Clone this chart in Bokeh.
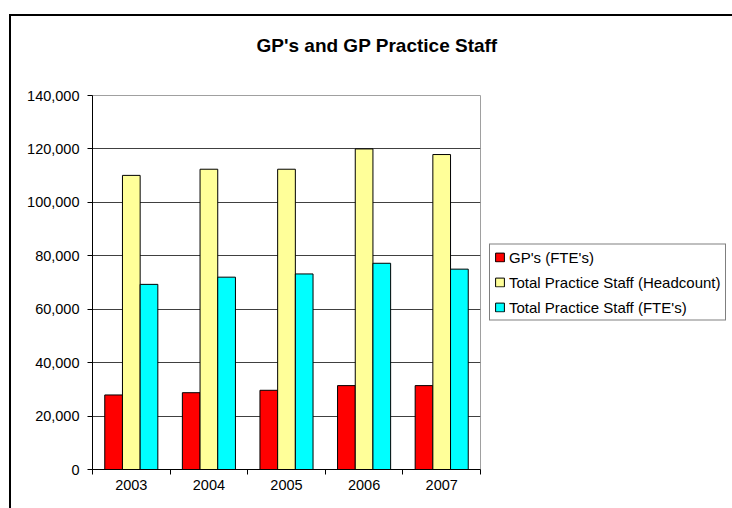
from bokeh.plotting import figure
from bokeh.models import (ColumnDataSource, Range1d, FixedTicker, NumeralTickFormatter,
                          Legend, LegendItem, Title)
from bokeh.transform import dodge
from bokeh.embed import file_html
from bokeh.resources import INLINE

# ---- data ----
years = ["2003", "2004", "2005", "2006", "2007"]
gp_fte = [27900, 28750, 29650, 31400, 31400]
staff_headcount = [110100, 112400, 112400, 120000, 117900]
staff_fte = [69300, 72000, 73200, 77200, 75000]
series_names = ["GP's (FTE's)", "Total Practice Staff (Headcount)", "Total Practice Staff (FTE's)"]
series_colors = ["#FF0000", "#FFFF99", "#00FFFF"]
y_ticks = [0, 20000, 40000, 60000, 80000, 100000, 120000, 140000]

FONT = "Liberation Sans"
n = len(years)
centers = [i + 0.5 for i in range(n)]
source = ColumnDataSource(dict(x=centers, gp=gp_fte, head=staff_headcount, fte=staff_fte))

p = figure(frame_width=388, frame_height=374, x_range=Range1d(0, n), y_range=Range1d(0, 140000),
           output_backend="svg", toolbar_location=None,
           min_border_left=81, min_border_right=252, min_border_top=79, min_border_bottom=39)
p.styles = {"margin-left": "9px", "margin-top": "14px",
            "border-left": "2px solid #000000", "border-top": "2px solid #000000"}

p.background_fill_color = "white"
p.border_fill_color = "white"
p.outline_line_color = "#a0a0a0"
p.outline_line_width = 1

bw = 0.228
renderers = []
for field, off, col in zip(["gp", "head", "fte"], [-bw, 0, bw], series_colors):
    r = p.vbar(x=dodge("x", off, range=p.x_range), top=field, width=bw, bottom=0,
               source=source, fill_color=col, line_color="#000000", line_width=1)
    renderers.append(r)

# title, with an empty spacer panel between it and the plot area
p.add_layout(Title(text=" ", text_font_size="11px", standoff=10), "above")
p.title.text = "GP's and GP Practice Staff"
p.title.text_font = FONT
p.title.text_font_size = "19px"
p.title.text_font_style = "bold"
p.title.text_color = "#000000"
p.title.align = "left"
p.title.offset = 164
p.title.standoff = 31

# y axis
yax = p.yaxis[0]
yax.ticker = FixedTicker(ticks=y_ticks)
yax.formatter = NumeralTickFormatter(format="0,0")
yax.major_tick_in = 0
yax.major_tick_out = 5
yax.minor_tick_line_color = None
yax.major_label_standoff = 8
yax.major_label_text_font = FONT
yax.major_label_text_font_size = "14.5px"
yax.major_label_text_color = "#000000"
yax.axis_line_color = "#000000"
yax.major_tick_line_color = "#000000"

p.ygrid.ticker = FixedTicker(ticks=y_ticks)
p.ygrid.grid_line_color = "#404040"
p.ygrid.grid_line_width = 1
p.xgrid.grid_line_color = None

# x axis: labels at category centres, ticks at boundaries
xax = p.xaxis[0]
xax.ticker = FixedTicker(ticks=centers, minor_ticks=list(range(n + 1)))
xax.major_label_overrides = {c: y for c, y in zip(centers, years)}
xax.major_tick_in = 0
xax.major_tick_out = 0
xax.minor_tick_in = 0
xax.minor_tick_out = 5
xax.minor_tick_line_color = "#000000"
xax.major_label_standoff = 5
xax.major_label_text_font = FONT
xax.major_label_text_font_size = "14.5px"
xax.major_label_text_color = "#000000"
xax.axis_line_color = "#000000"

# legend (outside, right)
legend = Legend(items=[LegendItem(label=nm, renderers=[r]) for nm, r in zip(series_names, renderers)],
                location="center_left")
legend.label_text_font = FONT
legend.label_text_font_size = "15px"
legend.label_text_color = "#000000"
legend.glyph_width = 11
legend.glyph_height = 11
legend.label_height = 16
legend.label_standoff = 4
legend.spacing = 8
legend.padding = 4
legend.margin = 9
legend.border_line_color = "#000000"
legend.border_line_width = 1
legend.background_fill_color = "white"
legend.background_fill_alpha = 1
p.add_layout(legend, "right")

open("out.html", "w").write(file_html(p, INLINE))
